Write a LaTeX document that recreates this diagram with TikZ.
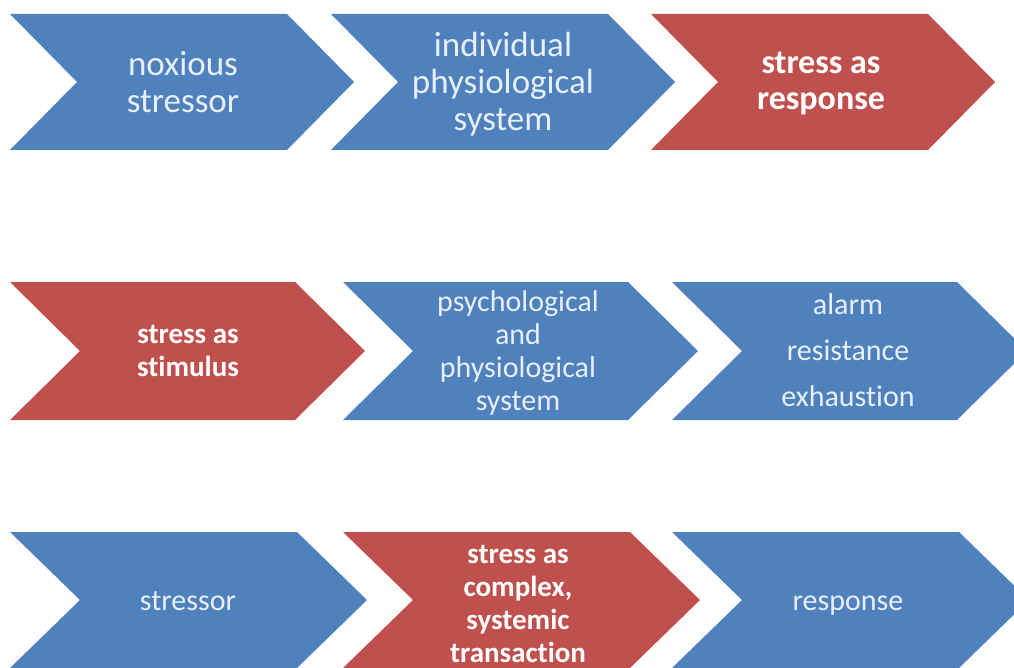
\documentclass[tikz,border=0pt]{standalone}
\usepackage{fontspec}
\setmainfont{Carlito}[Ligatures=NoCommon]
\definecolor{cblue}{HTML}{4F81BD}
\definecolor{cred}{HTML}{C0504D}
\definecolor{ltxt}{HTML}{E8EFF8}
\newcommand\mychev[6]{% left, top, width, height, depth, color
  \fill[#6] (#1,#2) -- ++(#3-#5,0) -- ++(#5,#4/2) -- ++(-#5,#4/2) -- ++(-#3+#5,0) -- ++(#5,-#4/2) -- cycle;}
\begin{document}
\begin{tikzpicture}[x=1pt,y=-1pt,
  big/.style={align=center,font=\fontsize{35}{37}\selectfont,inner sep=0pt},
  small/.style={align=center,font=\fontsize{30}{33}\selectfont,inner sep=0pt},
  btxt/.style={text=ltxt},
  rtxt/.style={text=white,font=\bfseries}]
\useasboundingbox (0,0) rectangle (1014,668);
\clip (0,0) rectangle (1014,668);
% row 1
\mychev{10}{14}{344}{136}{67}{cblue}
\mychev{331}{14}{344}{136}{67}{cblue}
\mychev{651}{14}{344}{136}{67}{cred}
\node[big,btxt] (a1) at (183,82) {noxious\\stressor};
\node[big,btxt] (a2) at (503,84) {individual\\physiological\\system};
\node[big,rtxt,font=\fontsize{34}{36}\selectfont\bfseries] (a3) at (821,83) {stress as\\response};
% row 2
\mychev{10}{282}{355}{138}{70}{cred}
\mychev{343}{282}{355}{138}{70}{cblue}
\mychev{672}{282}{355}{138}{70}{cblue}
\node[small,rtxt,font=\fontsize{29}{33}\selectfont\bfseries] (b1) at (188,351) {stress as\\stimulus};
\node[small,btxt] (b2) at (518,353) {psychological\\and\\physiological\\system};
\node[small,btxt,font=\fontsize{30}{46}\selectfont] (b3) at (848,350) {alarm\\resistance\\exhaustion};
% row 3
\mychev{10}{532}{357}{136}{70}{cblue}
\mychev{343}{532}{357}{136}{70}{cred}
\mychev{672}{532}{357}{136}{70}{cblue}
\node[small,btxt,anchor=base] (c1) at (188,610) {stressor};
\node[small,rtxt,font=\fontsize{29}{33}\selectfont\bfseries] (c2) at (518,604) {stress as\\complex,\\systemic\\transaction};
\node[small,btxt,anchor=base] (c3) at (848,610) {response};
\end{tikzpicture}
\end{document}
